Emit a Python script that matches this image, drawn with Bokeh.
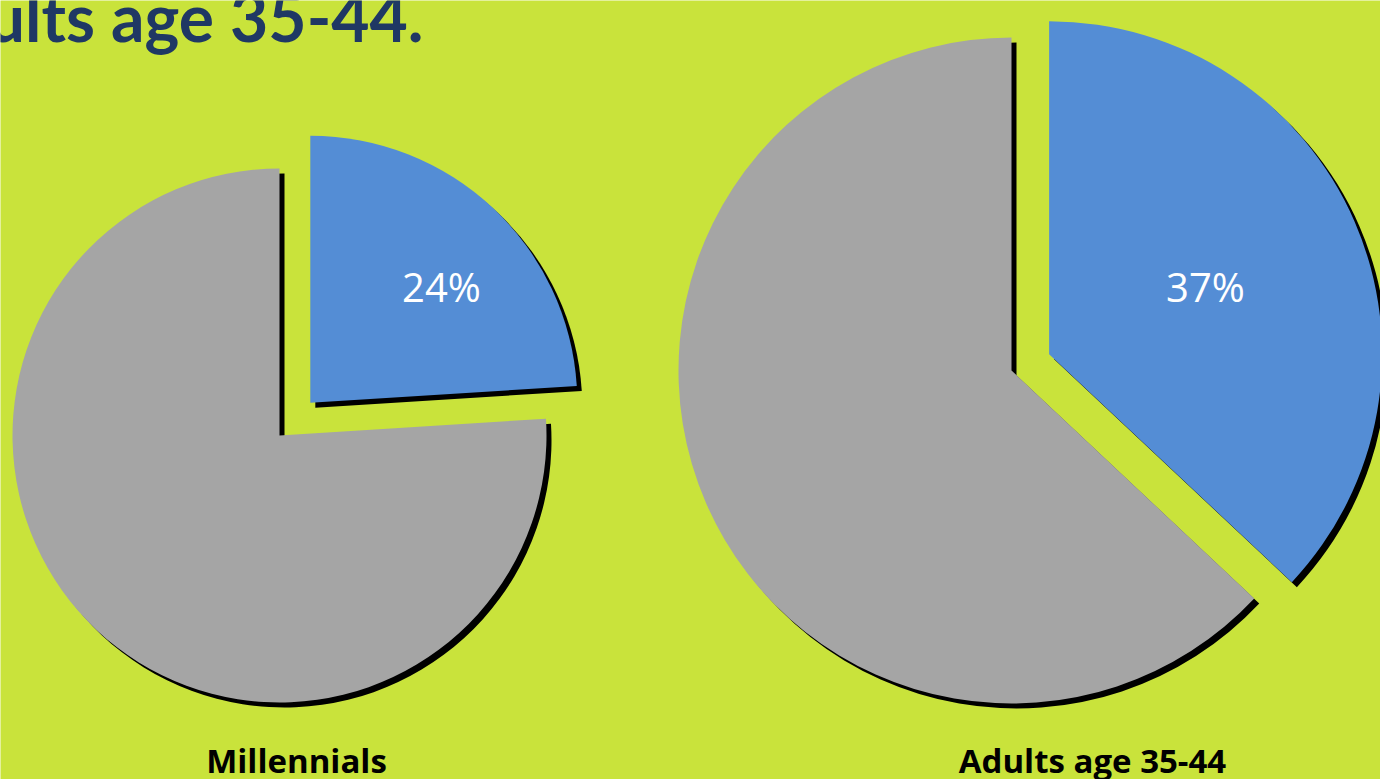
import math
from bokeh.plotting import figure
from bokeh.models import Range1d
from bokeh.core.properties import value
from bokeh.embed import file_html
from bokeh.resources import INLINE

# ---- data ----
categories = ["Millennials", "Adults age 35-44"]
shares = [24, 37]          # percent, highlighted (blue) slice
pct_labels = ["24%", "37%"]
title_text = "ults age 35-44."

# ---- layout / style constants ----
W, H = 1380, 779
centers = [(279, 344), (1011, 409)]
radii = [267, 333]
explode = [45, 41]
label_pos = [(441, 493), (1205, 493)]
cat_label_x = [296, 1092]
shadow_dx, shadow_dy = 5, -5
BG = "#C9E33B"
BLUE = "#548DD5"
GRAY = "#A5A5A5"
NAVY = "#1F3864"

p = figure(width=W, height=H, output_backend="svg", toolbar_location=None,
           x_range=Range1d(0, W), y_range=Range1d(0, H), min_border=0)
p.axis.visible = False
p.grid.visible = False
p.outline_line_color = None
p.background_fill_color = BG
p.border_fill_color = BG

for (cx, cy), r, ex, s in zip(centers, radii, explode, shares):
    top = math.pi / 2
    end = top - s / 100 * 2 * math.pi       # clockwise from 12 o'clock
    mid = (top + end) / 2
    bx, by = cx + ex * math.cos(mid), cy + ex * math.sin(mid)
    # shadows
    p.wedge(x=[cx + shadow_dx], y=[cy + shadow_dy], radius=r, start_angle=top, end_angle=end,
            fill_color="black", line_color=None)
    p.wedge(x=[bx + shadow_dx], y=[by + shadow_dy], radius=r, start_angle=end, end_angle=top,
            fill_color="black", line_color=None)
    # slices
    p.wedge(x=[cx], y=[cy], radius=r, start_angle=top, end_angle=end,
            fill_color=GRAY, line_color=None)
    p.wedge(x=[bx], y=[by], radius=r, start_angle=end, end_angle=top,
            fill_color=BLUE, line_color=None)

p.text(x=[lp[0] for lp in label_pos], y=[lp[1] for lp in label_pos], text=pct_labels,
       text_font=value("Open Sans"), text_font_size="40px", text_color="white",
       text_align="center", text_baseline="middle")

p.text(x=cat_label_x, y=[19, 19], text=categories,
       text_font=value("Open Sans"), text_font_size="33px", text_font_style="bold",
       text_color="black", text_align="center", text_baseline="middle")

p.text(x=[423], y=[H - 16], text=[title_text],
       text_font=value("Lato"), text_font_size="66px", text_font_style="bold",
       text_color=NAVY, text_align="right", text_baseline="middle")

open("out.html", "w").write(file_html(p, INLINE))
